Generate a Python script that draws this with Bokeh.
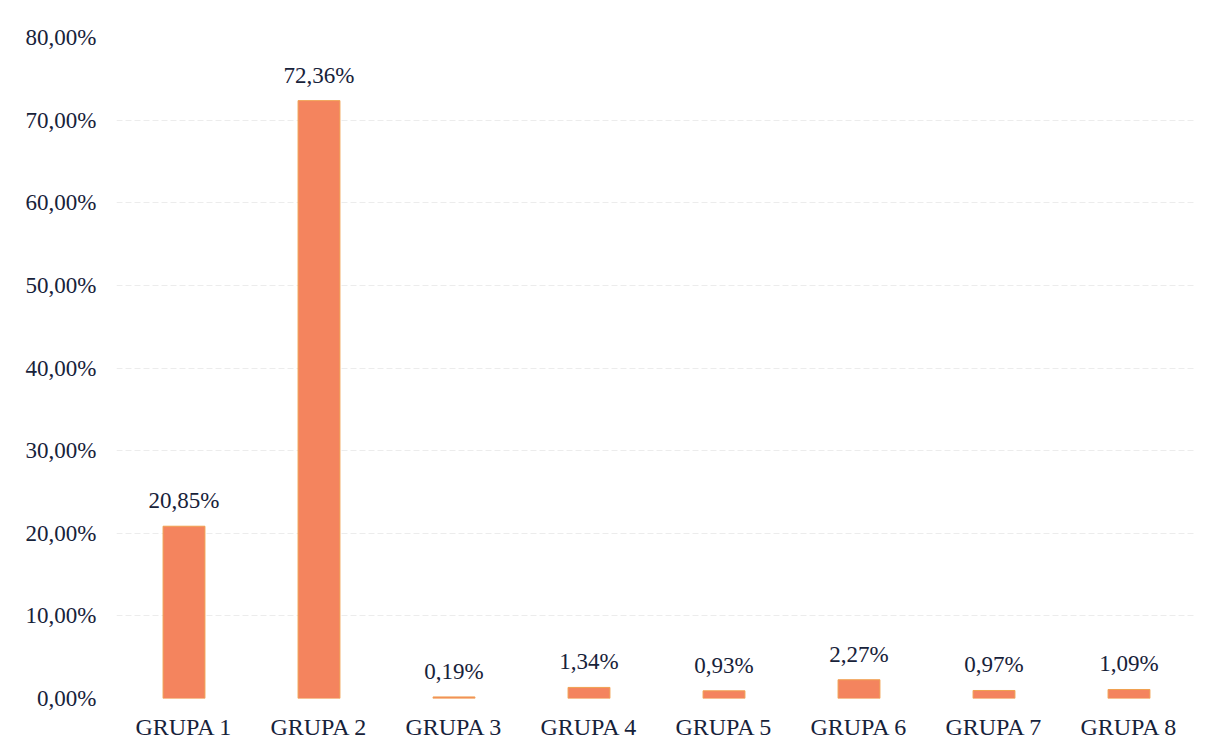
from bokeh.plotting import figure
from bokeh.models import ColumnDataSource, FactorRange, Range1d, FixedTicker, LabelSet
from bokeh.embed import file_html
from bokeh.resources import INLINE

categories = ["GRUPA 1", "GRUPA 2", "GRUPA 3", "GRUPA 4", "GRUPA 5", "GRUPA 6", "GRUPA 7", "GRUPA 8"]
values = [20.85, 72.36, 0.19, 1.34, 0.93, 2.27, 0.97, 1.09]
y_ticks = [0, 10, 20, 30, 40, 50, 60, 70, 80]

labels = [f"{v:.2f}".replace(".", ",") + "%" for v in values]
src = ColumnDataSource(dict(cat=categories, val=values, lab=labels))

FONT = "Liberation Serif"
TXT = "#17223a"

p = figure(x_range=FactorRange(*categories, range_padding=0.0), y_range=Range1d(0, 80),
           width=1215, height=744, output_backend="svg", toolbar_location=None,
           min_border_left=116, min_border_right=19, min_border_top=37, min_border_bottom=46)
p.outline_line_color = None
p.background_fill_color = "white"

p.vbar(x="cat", top="val", width=0.31, source=src, fill_color="#F4845E", line_color="#F0A050", line_width=1)

p.add_layout(LabelSet(x="cat", y="val", text="lab", source=src, y_offset=13,
                      text_align="center", text_baseline="bottom",
                      text_font=FONT, text_font_size="23px", text_color=TXT))

p.yaxis.ticker = FixedTicker(ticks=y_ticks)
p.yaxis.major_label_overrides = {t: f"{t:.2f}".replace(".", ",") + "%" for t in y_ticks}
for ax in (p.xaxis[0], p.yaxis[0]):
    ax.axis_line_color = None
    ax.major_tick_line_color = None
    ax.minor_tick_line_color = None
    ax.major_label_text_font = FONT
    ax.major_label_text_color = TXT
p.yaxis.major_label_text_font_size = "23px"
p.xaxis.major_label_text_font_size = "24px"
p.yaxis.major_label_standoff = 14
p.xaxis.major_label_standoff = 9

p.xgrid.grid_line_color = None
p.ygrid.grid_line_color = "#ececec"
p.ygrid.grid_line_dash = "6 3"

open("out.html", "w").write(file_html(p, INLINE))
